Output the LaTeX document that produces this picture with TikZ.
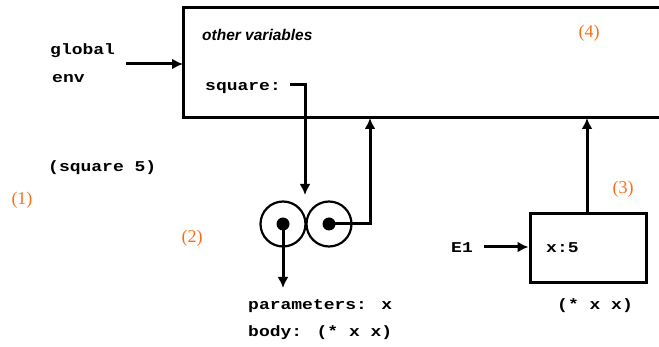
\documentclass[tikz,border=0pt]{standalone}
\usepackage{fontspec}
\setmainfont{Liberation Serif}
\newfontfamily\pix[FakeStretch=1.2]{Liberation Mono}
\newfontfamily\ital{Liberation Sans}
\usetikzlibrary{arrows.meta}
\definecolor{numorange}{RGB}{255,110,20}
\begin{document}
\begin{tikzpicture}[x=1pt,y=-1pt,
  lbl/.style={font=\pix\bfseries\fontsize{15}{15}\selectfont, inner sep=0pt, anchor=base west},
  num/.style={text=numorange, font=\fontsize{18}{18}\selectfont, inner sep=0pt},
  ln/.style={line width=3pt},
  arr/.style={ln, -{Latex[length=11pt,width=11pt]}},
  dot/.style={circle, fill=black, inner sep=0pt, minimum size=13pt},
  ring/.style={circle, draw, line width=2.2pt, inner sep=0pt, minimum size=45pt}]
\useasboundingbox (0,0) rectangle (659,347);
% global environment frame (right side beyond the picture)
\coordinate (envTL) at (183,8);
\coordinate (envBL) at (183,118);
\draw[ln] (660,8) -- (envTL) -- (envBL) -- (660,118);
\coordinate (envIn) at (183,64);
\coordinate (envB1) at (370,118);
\coordinate (envB2) at (587,118);
\node[font=\ital\bfseries\itshape\fontsize{15.5}{15.5}\selectfont, inner sep=0pt, anchor=base west] (other) at (202,41) {other variables};
\node[lbl] (sq) at (205,91) {square:};
\node[lbl] (glob) at (50,55) {global};
\node[lbl] (env) at (52,83) {env};
\node[lbl] (call) at (48,172) {(square 5)};
\node[num] (n1) at (22,200) {(1)};
\node[num] (n2) at (192,238) {(2)};
\node[num] (n3) at (623,189) {(3)};
\node[num] (n4) at (589,33) {(4)};
\coordinate (gstart) at (126,64);
\draw[arr] (gstart) -- (envIn);
% procedure object
\node[ring] (c1) at (283,224) {};
\node[ring] (c2) at (329,224) {};
\node[dot] (d1) at (283,224) {};
\node[dot] (d2) at (329,224) {};
\coordinate (sqend) at (290,85);
\coordinate (sqtip) at (305,195);
\draw[ln] (sqend) -- (305,85) -- (305,150);
\draw[arr] (305,150) -- (sqtip);
\draw[ln] (d2.center) -- (370,224) -- (370,160);
\draw[arr] (370,160) -- (envB1);
\coordinate (ptip) at (283,288);
\draw[arr] (d1.center) -- (ptip);
\node[lbl] (params) at (248,310) {parameters: x};
\node[lbl] (body) at (248,337) {body: (* x x)};
% environment E1
\node[draw, line width=3pt, minimum width=116pt, minimum height=69pt, inner sep=0pt] (e1box) at (588,248.5) {};
\node[lbl] (xv) at (546,253) {x:5};
\node[lbl] (e1) at (451,253) {E1};
\coordinate (e1start) at (484,247);
\draw[arr] (e1start) -- (e1box.west |- e1start);
\draw[arr] (e1box.north -| envB2) -- (envB2);
\node[lbl] (expr) at (557,310) {(* x x)};
\end{tikzpicture}
\end{document}
